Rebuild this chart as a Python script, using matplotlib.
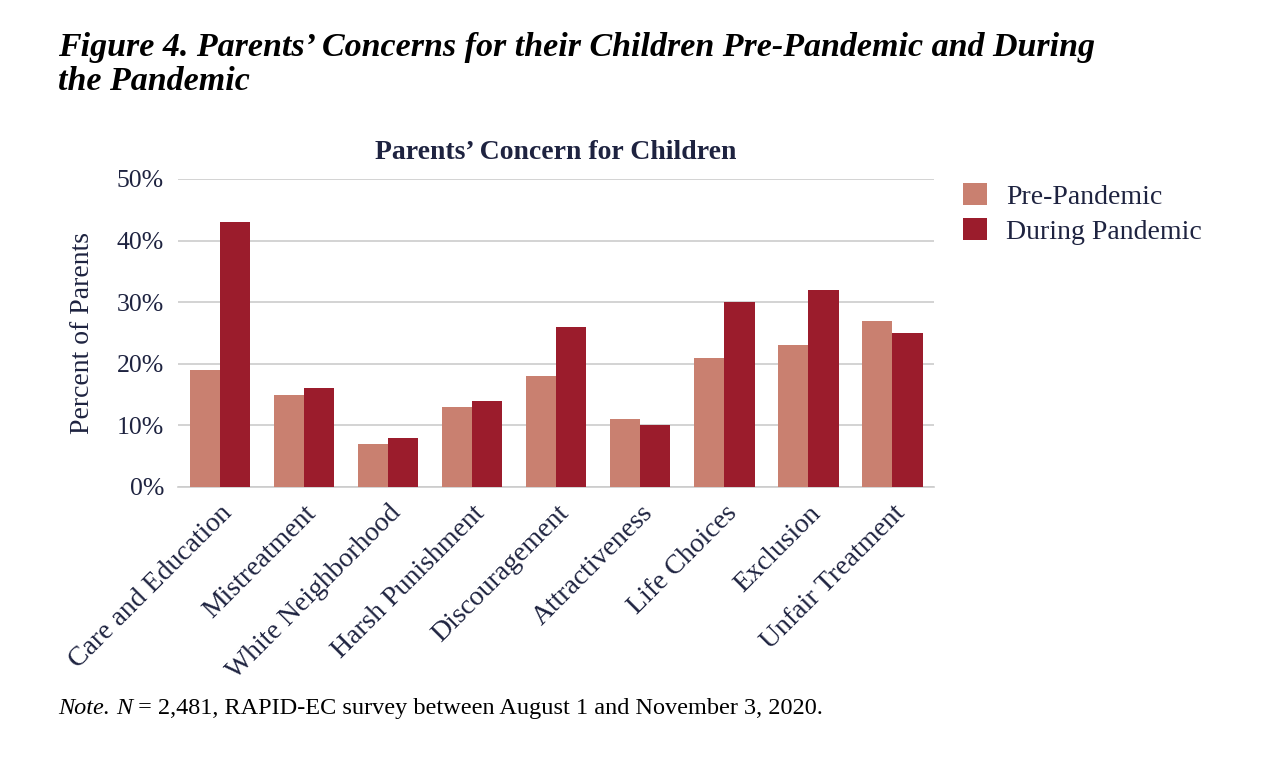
import matplotlib
matplotlib.use("Agg")
import matplotlib.pyplot as plt
import numpy as np

categories = ["Care and Education", "Mistreatment", "White Neighborhood", "Harsh Punishment",
              "Discouragement", "Attractiveness", "Life Choices", "Exclusion", "Unfair Treatment"]
pre_pandemic = [19, 15, 7, 13, 18, 11, 21, 23, 27]
during_pandemic = [43, 16, 8, 14, 26, 10, 30, 32, 25]
yticks = [0, 10, 20, 30, 40, 50]

pre_color = "#C98070"
during_color = "#9B1C2C"
text_color = "#1E2340"
serif = ["Liberation Serif", "DejaVu Serif"]

plt.rcParams["font.family"] = serif
plt.rcParams["text.color"] = text_color

fig = plt.figure(figsize=(12.8, 7.68), dpi=100)
ax = fig.add_axes([0.139, 0.366, 0.591, 0.401])

x = np.arange(len(categories))
w = 0.36
ax.bar(x - w / 2, pre_pandemic, w, color=pre_color, label="Pre-Pandemic", zorder=3)
ax.bar(x + w / 2, during_pandemic, w, color=during_color, label="During Pandemic", zorder=3)

ax.set_xlim(-0.5, len(categories) - 0.5)
ax.set_ylim(0, 50)
ax.set_yticks(yticks)
ax.set_yticklabels([f"{v}%" for v in yticks], fontsize=18.5, color=text_color)
ax.yaxis.grid(True, color="#CCCCCC", linewidth=1.2, zorder=0)
ax.set_xticks(x)
ax.set_xticklabels(categories, rotation=45, ha="right", rotation_mode="anchor",
                   fontsize=20, color=text_color)
ax.tick_params(axis="y", length=0, pad=10)
ax.tick_params(axis="x", length=0, pad=10)
for s in ["top", "right", "left"]:
    ax.spines[s].set_visible(False)
ax.spines["bottom"].set_color("#CCCCCC")
ax.spines["bottom"].set_linewidth(1.2)

ax.set_ylabel("Percent of Parents", fontsize=20, color=text_color, labelpad=16)
ax.set_title("Parents\u2019 Concern for Children", fontsize=20, fontweight="bold",
             color=text_color, pad=14)

ax.legend(loc="upper left", bbox_to_anchor=(1.005, 1.068), frameon=False, fontsize=20,
          handlelength=0.85, handleheight=0.85, handletextpad=0.7, labelspacing=0.3,
          labelcolor=text_color)

fig.text(0.045, 0.916, "Figure 4. Parents\u2019 Concerns for their Children Pre-Pandemic and During\nthe Pandemic",
         fontsize=24.5, fontweight="bold", fontstyle="italic", color="black",
         va="center", ha="left", linespacing=1.1)

# note line with italic pieces, all on one baseline
pieces = [("Note.", "italic"), (" ", "normal"), ("N", "italic"),
          (" = 2,481, RAPID-EC survey between August 1 and November 3, 2020.", "normal")]
fig.canvas.draw()
r = fig.canvas.get_renderer()
xpos = 58
for txt, style in pieces:
    t = fig.text(xpos / 1280, 1 - 714 / 768, txt, fontsize=17.5, fontstyle=style,
                 color="black", va="baseline", ha="left")
    bb = t.get_window_extent(renderer=r)
    xpos = bb.x1

fig.savefig("out.png", dpi=100)
